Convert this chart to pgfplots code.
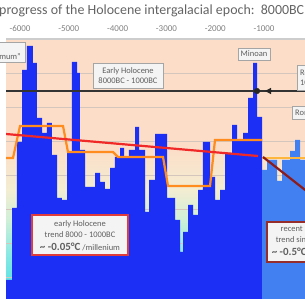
\documentclass[border=0pt]{standalone}
\usepackage{fontspec}
\setmainfont{Carlito}
\usepackage{pgfplots}
\pgfplotsset{compat=1.18}
\usetikzlibrary{arrows.meta}
\definecolor{peach}{RGB}{252,222,200}
\definecolor{cream}{RGB}{243,237,210}
\definecolor{lgreen}{RGB}{208,239,215}
\definecolor{lcyan}{RGB}{135,232,228}
\definecolor{cyanb}{RGB}{70,222,228}
\definecolor{barblue}{RGB}{28,48,245}
\definecolor{recblue}{RGB}{66,128,242}
\definecolor{orangeL}{RGB}{255,140,30}
\definecolor{orangeR}{RGB}{255,182,60}
\definecolor{trendred}{RGB}{240,40,40}
\definecolor{darkred}{RGB}{140,28,28}
\definecolor{gridc}{RGB}{212,198,188}
\definecolor{boxfill}{RGB}{244,244,244}
\definecolor{boxline}{RGB}{165,165,165}
\definecolor{boxred}{RGB}{225,60,60}
\definecolor{boxdred}{RGB}{150,45,45}
\definecolor{txt}{RGB}{95,95,95}
\definecolor{titlec}{RGB}{100,100,100}
\definecolor{tickc}{RGB}{130,130,130}
\definecolor{topline}{RGB}{205,205,205}

\pgfplotstableread{
x y
-6287 19
-6164 91
-6062 157
-5959 229
-5857 253
-5734 236
-5652 181
-5549 166
-5447 176
-5345 144
-5242 101
-5140 99
-5037 146
-4935 237
-4832 226
-4771 149
-4668 112
-4463 126
-4361 117
-4259 110
-4156 131
-4054 142
-3951 151
-3869 142
-3767 149
-3644 172
-3562 149
-3439 87
-3357 119
-3234 165
-2988 101
-2824 79
-2722 47
-2660 67
-2558 94
-2455 84
-2353 109
-2251 157
-2107 122
-2005 99
-1902 109
-1800 146
-1656 174
-1554 159
-1431 166
-1328 201
-1226 236
-1144 182
-1042 182
}\early

\pgfplotstableread{
x y
-1042 129
-939 139
-734 118
-632 139
-468 148
-365 159
-263 139
-100 139
}\recent

\begin{document}
\begin{tikzpicture}[x=1bp,y=1bp]
\useasboundingbox (0,0) rectangle (305,299);
\begin{scope}
\clip (0,0) rectangle (305,299);
\fill[white] (0,0) rectangle (305,299);
\fill[peach] (6,149) rectangle (305,260);
\shade[bottom color=cream, top color=peach] (6,109) rectangle (305,149.3);
\shade[bottom color=lgreen, top color=cream] (6,79) rectangle (305,109.3);
\shade[bottom color=lcyan, top color=lgreen] (6,44) rectangle (305,79.3);
\shade[bottom color=cyanb, top color=lcyan] (6,0) rectangle (305,44.3);

\begin{axis}[at={(6bp,0bp)}, anchor=south west, scale only axis,
  width=299bp, height=260bp,
  xmin=-6287, xmax=-161, ymin=0, ymax=260,
  axis line style={draw=none},
  xtick={-6000,-5000,-4000,-3000,-2000,-1000},
  xticklabels={-6000,-5000,-4000,-3000,-2000,-1000},
  xticklabel pos=upper,
  major tick length=0pt,
  xticklabel style={font=\fontsize{9}{10}\selectfont, text=tickc, anchor=base, yshift=8bp},
  ytick={22,56,90,124,158,192,226}, yticklabels={},
  ymajorgrids, grid style={gridc, line width=0.8bp}]
\addplot[fill=barblue, draw=none, const plot] table[x=x,y=y] {\early} \closedcycle;
\addplot[fill=recblue, draw=none, const plot] table[x=x,y=y] {\recent} \closedcycle;
\addplot[orangeL, line width=2.2bp] coordinates {(-6287,141) (-6144,141) (-6000,173) (-5119,173) (-5017,147) (-4095,147) (-3992,142) (-3070,142) (-2968,113) (-2107,113) (-2005,159) (-1042,159)};
\addplot[orangeR, line width=1.8bp] coordinates {(-1042,141) (0,141)};
\addplot[trendred, line width=2.2bp] coordinates {(-6287,165) (-1124,143)};
\addplot[darkred, line width=2.2bp] coordinates {(-1021,142) (0,103)};
\addplot[black!80, line width=1.4bp] coordinates {(-6287,208) (0,208)};
\addplot[only marks, mark=*, mark size=2.8bp, black!85] coordinates {(-1144,208)};
\addplot[black!85, line width=1.4bp, -{Triangle[length=6bp,width=6bp]}] coordinates {(-850,208) (-980,208)};
\end{axis}

\draw[topline, line width=1.5bp] (6,260) -- (305,260);

\node[anchor=base west, inner sep=0, text=titlec, font=\fontsize{14}{15}\selectfont] at (-1,285) {progress of the Holocene intergalacial epoch:\ \ 8000BC - 2000AD};

\begin{scope}[every node/.style={text=txt, inner sep=0, font=\fontsize{8.5}{10.5}\selectfont}]
\filldraw[fill=boxfill, draw=boxline, line width=0.7bp] (-40,237) rectangle (25,257);
\node[anchor=base east] at (21,240) {Climate Optimum"};
\filldraw[fill=boxfill, draw=boxline, line width=0.7bp] (93,211) rectangle (163,236);
\node[align=center] at (128,223.5) {Early Holocene\\8000BC - 1000BC};
\filldraw[fill=boxfill, draw=boxline, line width=0.7bp] (238,239) rectangle (270,251);
\node at (254,245) {Minoan};
\filldraw[fill=boxfill, draw=boxline, line width=0.7bp] (297,209) rectangle (370,234);
\node[align=left, anchor=west] at (300,221.5) {Recent Holocene\\1000BC - 2000AD};
\filldraw[fill=boxfill, draw=boxline, line width=0.7bp] (292,180) rectangle (350,193);
\node[anchor=west] at (295,186.5) {Roman};
\filldraw[fill=boxfill, draw=boxred, line width=1.3bp] (32,44) rectangle (128,84);
\node at (80,75) {early Holocene};
\node at (80,64) {trend 8000 - 1000BC};
\node at (80,52) {{\bfseries\fontsize{11}{12}\selectfont \textasciitilde{} -0.05°C} /millenium};
\filldraw[fill=boxfill, draw=boxdred, line width=1.3bp] (267,37) rectangle (370,77);
\node at (309,70) {recent Holocene};
\node at (309,59) {trend since 1000BC};
\node at (309,47) {{\bfseries\fontsize{11}{12}\selectfont \textasciitilde{} -0.5°C} /millenium};
\end{scope}
\end{scope}
\end{tikzpicture}
\end{document}
